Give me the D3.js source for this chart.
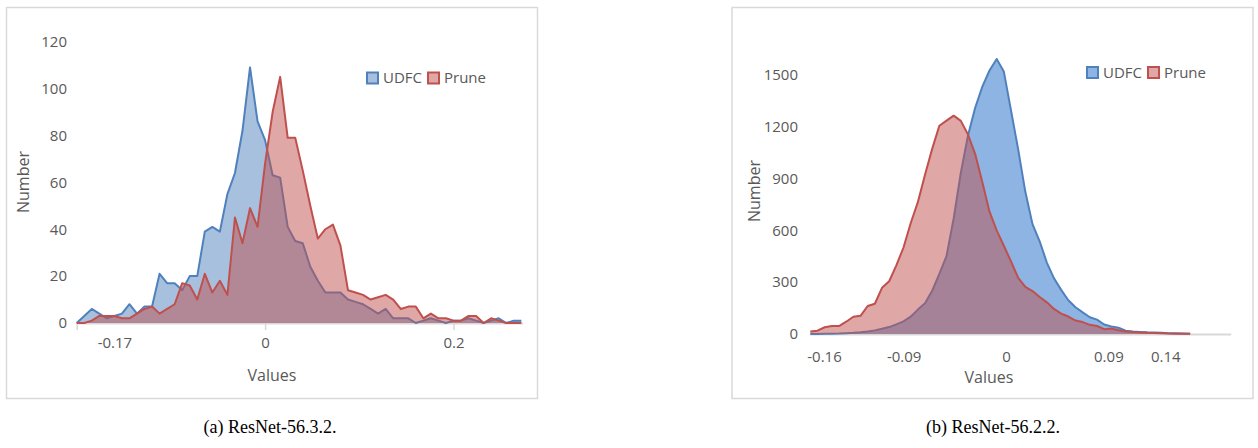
<!DOCTYPE html>
<html><head><meta charset="utf-8">
<script src="https://cdn.jsdelivr.net/npm/d3@7/dist/d3.min.js"></script>
<style>body{margin:0;background:#fff}svg{display:block}</style>
</head><body><svg id="c" width="1258" height="448"></svg>
<script>
const seriesNames = ["UDFC", "Prune"];

// ---- Panel (a) ResNet-56.3.2 ----
const binStartA = -0.21, binStepA = 0.0084;
const udfcA = [0,3,6,4,2,3,4,8,4,7,7,21,17,17,14,20,20,39,41,39,55,64,82,109,86,78,63,62,41,35,34,24,18,13,13,13,10,9,8,6,4,6,2,2,2,0,1,2,1,0,1,1,2,1,0,1,2,0,1,1];
const pruneA = [0,0,1,3,3,3,2,2,4,6,7,4,6,8,17,16,10,21,13,18,12,45,34,49,41,68,90,105,79,79,65,50,36,40,42,33,14,13,12,10,11,12,10,6,7,7,2,4,2,2,1,1,3,3,0,2,1,0,0,0];
const yTicksA = [0,20,40,60,80,100,120];
const xTickMarksA = [-0.21, 0, 0.21];
const xTickLabelPosA = [-0.168, 0, 0.21];
const xTickLabelsA = ["-0.17", "0", "0.2"];
const captionA = "(a) ResNet-56.3.2.";

// ---- Panel (b) ResNet-56.2.2 ----
const binStartB = -0.172, binStepB = 0.0063;
const udfcB = [0,0,1,2,3,5,7,10,14,21,30,40,56,73,100,141,178,250,347,450,668,933,1148,1308,1430,1523,1590,1517,1293,1067,822,635,536,413,322,255,195,155,125,97,83,55,44,36,19,14,12,10,9,7,5,4,3,2];
const pruneB = [15,19,39,46,46,71,100,105,162,175,267,305,397,500,640,762,920,1070,1204,1233,1262,1232,1153,1040,877,707,599,510,420,325,273,248,214,183,145,118,101,78,69,53,46,28,32,22,14,11,9,7,6,5,3,2,1,1];
const yTicksB = [0,300,600,900,1200,1500];
const xTicksB = [-0.16, -0.09, 0, 0.09, 0.14];
const xTickLabelsB = ["-0.16", "-0.09", "0", "0.09", "0.14"];
const axisEndB = 0.198;
const captionB = "(b) ResNet-56.2.2.";

const svg = d3.select("#c");
const FONT = "'Open Sans', 'Liberation Sans', sans-serif";
const TXT = "#595959";
const BLUE = "#4F81BD", RED = "#C0504D";

function toPts(vals, start, step) {
  return vals.map((v, i) => ({x: start + i * step, v}));
}

function panel(cfg) {
  const g = svg.append("g");
  g.append("rect").attr("x", cfg.box[0]).attr("y", cfg.box[1])
    .attr("width", cfg.box[2]).attr("height", cfg.box[3])
    .attr("fill", "#fff").attr("stroke", "#d9d9d9").attr("stroke-width", 1.5);

  const x = d3.scaleLinear().domain(cfg.xDomain).range(cfg.xRange);
  const y = d3.scaleLinear().domain(cfg.yDomain).range(cfg.yRange);

  // y tick labels
  g.append("g").attr("transform", `translate(${cfg.yLabelX},0)`)
    .call(d3.axisLeft(y).tickValues(cfg.yTicks).tickSize(0).tickPadding(0).tickFormat(d3.format("d")))
    .call(s => s.select(".domain").remove())
    .call(s => s.selectAll("text").attr("fill", TXT).style("font-family", FONT).style("font-size", "15px"));

  // x axis line
  g.append("line").attr("x1", x(cfg.axisFrom)).attr("x2", x(cfg.axisTo))
    .attr("y1", y(0) + 0.5).attr("y2", y(0) + 0.5)
    .attr("stroke", "#d9d9d9").attr("stroke-width", 2);

  if (cfg.tickMarks) {
    g.append("g").attr("transform", `translate(0,${y(0)})`)
      .call(d3.axisBottom(x).tickValues(cfg.tickMarks).tickSize(7).tickFormat(""))
      .call(s => s.select(".domain").remove())
      .call(s => s.selectAll("line").attr("stroke", "#d9d9d9").attr("stroke-width", 1.5));
  }

  // x tick labels
  g.append("g").attr("transform", `translate(0,${cfg.xLabelY})`)
    .call(d3.axisBottom(x).tickValues(cfg.xLabelPos).tickSize(0).tickPadding(0)
      .tickFormat((d, i) => cfg.xLabels[i]))
    .call(s => s.select(".domain").remove())
    .call(s => s.selectAll("text").attr("fill", TXT).attr("dy", "0.35em")
      .style("font-family", FONT).style("font-size", "15px"));

  const area = d3.area().x(d => x(d.x)).y0(y(0)).y1(d => y(d.v));
  const line = d3.line().x(d => x(d.x)).y(d => y(d.v));

  cfg.series.forEach((s, k) => {
    g.append("path").datum(s.pts).attr("d", area)
      .attr("fill", s.fill).attr("fill-opacity", s.fillOpacity);
    g.append("path").datum(s.pts).attr("d", line)
      .attr("fill", "none").attr("stroke", s.stroke).attr("stroke-width", 2)
      .attr("stroke-linejoin", "round");
  });

  // axis titles
  g.append("text").attr("x", cfg.xTitle[0]).attr("y", cfg.xTitle[1])
    .attr("text-anchor", "middle").attr("dy", "0.35em")
    .attr("fill", TXT).style("font-family", FONT).style("font-size", "16px").text("Values");
  g.append("text").attr("transform", `translate(${cfg.yTitle[0]},${cfg.yTitle[1]}) rotate(-90)`)
    .attr("text-anchor", "middle").attr("dy", "0.35em")
    .attr("fill", TXT).style("font-family", FONT).style("font-size", "16px").text("Number");

  // legend
  const lg = g.append("g").attr("transform", `translate(${cfg.legend[0]},${cfg.legend[1]})`);
  let off = 0;
  cfg.series.forEach((s, k) => {
    lg.append("rect").attr("x", off + 1).attr("y", -5.5).attr("width", 11).attr("height", 11)
      .attr("fill", s.legendFill).attr("stroke", s.stroke).attr("stroke-width", 2);
    const t = lg.append("text").attr("x", off + 17).attr("y", 0).attr("dy", "0.35em")
      .attr("fill", TXT).style("font-family", FONT).style("font-size", "15px").text(seriesNames[k]);
    off += 17 + t.node().getComputedTextLength() + 5;
  });

  // caption
  svg.append("text").attr("x", cfg.caption[0]).attr("y", cfg.caption[1])
    .attr("text-anchor", "middle").attr("fill", "#000")
    .style("font-family", "'Liberation Serif', 'DejaVu Serif', serif").style("font-size", "18px")
    .text(cfg.caption[2]);
}

const ptsUA = toPts(udfcA, binStartA, binStepA), ptsPA = toPts(pruneA, binStartA, binStepA);
panel({
  box: [6.5, 7.5, 531, 391],
  xDomain: [binStartA, binStartA + binStepA * (udfcA.length - 1)], xRange: [76.7, 521.3],
  yDomain: [0, 120], yRange: [323, 41.7],
  yTicks: yTicksA, yLabelX: 67,
  axisFrom: binStartA, axisTo: binStartA + binStepA * (udfcA.length - 1) + 0.002,
  tickMarks: xTickMarksA, xLabelPos: xTickLabelPosA, xLabels: xTickLabelsA, xLabelY: 343,
  series: [
    {pts: ptsUA, fill: BLUE, fillOpacity: 0.5, stroke: BLUE, legendFill: "#a7bede"},
    {pts: ptsPA, fill: RED, fillOpacity: 0.5, stroke: RED, legendFill: "#dfa7a6"}
  ],
  xTitle: [272, 375], yTitle: [23, 182], legend: [366, 78],
  caption: [270, 433, captionA]
});

const ptsUB = toPts(udfcB, binStartB, binStepB), ptsPB = toPts(pruneB, binStartB, binStepB);
panel({
  box: [732, 7.5, 521, 391],
  xDomain: [-0.16, 0], xRange: [824, 1006],
  yDomain: [0, 1500], yRange: [334, 74.5],
  yTicks: yTicksB, yLabelX: 798,
  axisFrom: binStartB, axisTo: axisEndB,
  tickMarks: null, xLabelPos: xTicksB, xLabels: xTickLabelsB, xLabelY: 357,
  series: [
    {pts: ptsUB, fill: "#8db4e2", fillOpacity: 1, stroke: BLUE, legendFill: "#8db4e2"},
    {pts: ptsPB, fill: RED, fillOpacity: 0.5, stroke: RED, legendFill: "#dfa7a6"}
  ],
  xTitle: [989, 377], yTitle: [754, 191], legend: [1086, 72.5],
  caption: [993, 433, captionB]
});
</script></body></html>
